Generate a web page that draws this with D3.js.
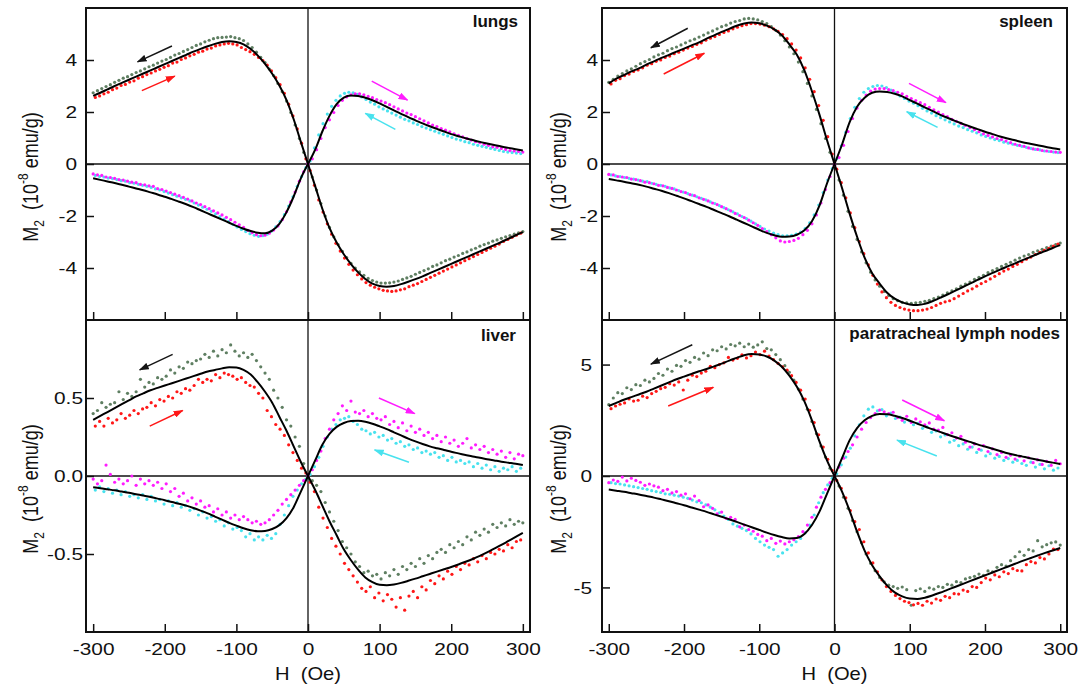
<!DOCTYPE html>
<html>
<head>
<meta charset="utf-8">
<script src="https://cdn.jsdelivr.net/npm/d3@7"></script>
<style>
  body { margin: 0; background: #fff; }
  text { font-family: "Liberation Sans", Arial, sans-serif; fill: #111; }
</style>
</head>
<body>
<svg id="chart" width="1084" height="690"></svg>
<script>
// |H| sampling of the measured points (Oe); negative branches use -H
const hA = [0,6,12,18,24,30,36,42,48,54,60,66,72,78,84,90,96,102,108,114,120,126,132,138,144,150,156,162,168,174,180,186,192,198,204,210,216,222,228,234,240,246,252,258,264,270,276,282,288,294,300];
const hB = [3,9,15,21,27,33,39,45,51,57,63,69,75,81,87,93,99,105,111,117,123,129,135,141,147,153,159,165,171,177,183,189,195,201,207,213,219,225,231,237,243,249,255,261,267,273,279,285,291,297];
const hFit = [0,10,20,30,40,50,60,70,80,90,100,110,120,130,140,150,160,170,180,190,200,210,220,230,240,250,260,270,280,290,300];

const xMajor = [-300,-200,-100,0,100,200,300];
const xMinor = [-250,-150,-50,50,150,250];

// ---- lungs ----
const lungsGrayUL = [0.05,0.45,0.98,1.50,1.98,2.42,2.78,3.10,3.40,3.65,3.90,4.10,4.30,4.48,4.62,4.75,4.82,4.86,4.90,4.88,4.87,4.86,4.82,4.76,4.70,4.62,4.56,4.48,4.40,4.33,4.25,4.19,4.10,4.02,3.96,3.88,3.80,3.74,3.66,3.58,3.52,3.44,3.36,3.30,3.22,3.14,3.05,2.98,2.90,2.82,2.74];
const lungsRedUL = [0.20,0.80,1.35,1.85,2.30,2.72,3.05,3.32,3.58,3.80,3.98,4.10,4.22,4.32,4.40,4.48,4.58,4.62,4.64,4.62,4.58,4.54,4.46,4.42,4.34,4.30,4.22,4.16,4.08,4.02,3.92,3.88,3.78,3.72,3.64,3.58,3.50,3.44,3.36,3.30,3.20,3.15,3.06,3.02,2.92,2.86,2.76,2.70,2.62,2.56];
const lungsGrayLR = [-0.05,-0.50,-1.00,-1.52,-2.00,-2.44,-2.80,-3.10,-3.36,-3.60,-3.82,-4.00,-4.15,-4.28,-4.40,-4.48,-4.54,-4.58,-4.58,-4.57,-4.54,-4.50,-4.44,-4.38,-4.32,-4.24,-4.17,-4.10,-4.03,-3.94,-3.88,-3.80,-3.72,-3.66,-3.58,-3.52,-3.44,-3.38,-3.30,-3.24,-3.16,-3.10,-3.04,-2.97,-2.92,-2.86,-2.80,-2.75,-2.70,-2.65,-2.60];
const lungsRedLR = [-0.25,-0.82,-1.38,-1.85,-2.30,-2.70,-3.05,-3.35,-3.62,-3.86,-4.08,-4.26,-4.42,-4.56,-4.66,-4.74,-4.80,-4.86,-4.88,-4.90,-4.88,-4.84,-4.80,-4.72,-4.66,-4.60,-4.52,-4.44,-4.36,-4.28,-4.20,-4.12,-4.04,-3.96,-3.88,-3.80,-3.72,-3.64,-3.56,-3.48,-3.40,-3.32,-3.24,-3.16,-3.08,-2.98,-2.90,-2.82,-2.74,-2.66];
const lungsMagUR = [0.02,0.20,0.55,0.98,1.40,1.70,1.98,2.25,2.45,2.58,2.66,2.70,2.70,2.66,2.60,2.55,2.48,2.42,2.36,2.28,2.20,2.12,2.04,1.96,1.90,1.82,1.74,1.66,1.58,1.50,1.44,1.36,1.30,1.24,1.16,1.10,1.04,0.98,0.92,0.86,0.82,0.76,0.72,0.66,0.64,0.60,0.56,0.52,0.50,0.48,0.46];
const lungsCyanUR = [0.12,0.62,1.12,1.55,1.92,2.22,2.45,2.62,2.72,2.76,2.74,2.68,2.58,2.48,2.38,2.30,2.20,2.12,2.04,1.96,1.88,1.80,1.72,1.66,1.58,1.52,1.44,1.38,1.32,1.26,1.20,1.14,1.08,1.02,0.96,0.92,0.86,0.82,0.76,0.72,0.68,0.64,0.60,0.56,0.52,0.48,0.46,0.44,0.42,0.40];
const lungsMagLL = [-0.05,-0.30,-0.66,-1.08,-1.46,-1.84,-2.14,-2.38,-2.54,-2.66,-2.74,-2.76,-2.72,-2.64,-2.55,-2.44,-2.34,-2.24,-2.14,-2.05,-1.96,-1.88,-1.80,-1.72,-1.64,-1.56,-1.50,-1.42,-1.35,-1.28,-1.22,-1.16,-1.10,-1.04,-0.98,-0.95,-0.86,-0.84,-0.80,-0.78,-0.72,-0.70,-0.66,-0.62,-0.60,-0.55,-0.52,-0.50,-0.44,-0.42,-0.38];
const lungsCyanLL = [-0.14,-0.48,-0.86,-1.26,-1.62,-1.95,-2.22,-2.42,-2.58,-2.70,-2.76,-2.78,-2.74,-2.68,-2.60,-2.52,-2.42,-2.32,-2.22,-2.12,-2.02,-1.92,-1.82,-1.74,-1.66,-1.58,-1.50,-1.42,-1.36,-1.30,-1.24,-1.18,-1.12,-1.06,-1.00,-0.96,-0.90,-0.86,-0.82,-0.78,-0.74,-0.72,-0.66,-0.64,-0.60,-0.56,-0.54,-0.50,-0.48,-0.44];
const lungsFitUL = [0,0.85,1.72,2.46,3.02,3.47,3.85,4.17,4.42,4.6,4.69,4.72,4.69,4.62,4.53,4.43,4.32,4.2,4.08,3.96,3.84,3.72,3.6,3.48,3.36,3.24,3.12,3.0,2.87,2.74,2.62];
const lungsFitLR = [0,-0.85,-1.72,-2.46,-3.02,-3.47,-3.85,-4.17,-4.42,-4.6,-4.69,-4.72,-4.69,-4.62,-4.53,-4.43,-4.32,-4.2,-4.08,-3.96,-3.84,-3.72,-3.6,-3.48,-3.36,-3.24,-3.12,-3.0,-2.87,-2.74,-2.62];
const lungsFitUR = [0,0.55,1.25,1.85,2.3,2.55,2.63,2.62,2.55,2.45,2.33,2.2,2.06,1.93,1.8,1.68,1.56,1.45,1.35,1.25,1.15,1.07,0.99,0.92,0.85,0.79,0.73,0.67,0.62,0.57,0.52];
const lungsFitLL = [0,-0.55,-1.25,-1.85,-2.3,-2.56,-2.66,-2.64,-2.58,-2.49,-2.38,-2.26,-2.14,-2.02,-1.9,-1.78,-1.66,-1.55,-1.45,-1.35,-1.26,-1.17,-1.09,-1.01,-0.94,-0.87,-0.8,-0.73,-0.67,-0.61,-0.55];
const lungsArrows = [[-190,4.54,-238,3.93,"black"],[-232,2.82,-186,3.38,"red"],[89,3.19,139,2.46,"magenta"],[122,1.33,80,1.95,"cyan"]];

// ---- spleen ----
const spleenGrayUL = [0.05,0.45,0.98,1.55,2.10,2.62,3.10,3.55,3.92,4.24,4.50,4.74,4.96,5.14,5.28,5.40,5.48,5.54,5.58,5.60,5.58,5.52,5.48,5.42,5.34,5.28,5.20,5.12,5.04,4.96,4.88,4.80,4.74,4.66,4.58,4.50,4.44,4.36,4.26,4.20,4.12,4.02,3.94,3.86,3.76,3.66,3.58,3.48,3.38,3.26,3.14];
const spleenRedUL = [0.38,1.05,1.68,2.25,2.78,3.26,3.70,4.08,4.38,4.62,4.82,4.98,5.10,5.20,5.28,5.34,5.38,5.40,5.40,5.36,5.32,5.26,5.20,5.12,5.06,4.98,4.90,4.84,4.76,4.66,4.60,4.52,4.46,4.38,4.30,4.24,4.15,4.10,4.00,3.95,3.86,3.80,3.70,3.62,3.56,3.46,3.40,3.28,3.22,3.08];
const spleenGrayLR = [-0.05,-0.62,-1.20,-1.82,-2.40,-2.90,-3.38,-3.80,-4.16,-4.46,-4.70,-4.90,-5.06,-5.18,-5.26,-5.32,-5.34,-5.36,-5.34,-5.32,-5.28,-5.24,-5.18,-5.12,-5.04,-4.96,-4.88,-4.80,-4.70,-4.62,-4.54,-4.44,-4.36,-4.28,-4.18,-4.10,-4.02,-3.94,-3.86,-3.78,-3.70,-3.62,-3.54,-3.48,-3.40,-3.34,-3.28,-3.22,-3.16,-3.10,-3.04];
const spleenRedLR = [-0.20,-0.72,-1.30,-1.88,-2.45,-2.98,-3.45,-3.88,-4.28,-4.62,-4.92,-5.14,-5.32,-5.44,-5.52,-5.58,-5.62,-5.64,-5.64,-5.62,-5.58,-5.52,-5.44,-5.36,-5.30,-5.26,-5.18,-5.08,-4.98,-4.88,-4.80,-4.70,-4.60,-4.52,-4.42,-4.32,-4.22,-4.12,-4.04,-3.94,-3.86,-3.76,-3.66,-3.58,-3.48,-3.40,-3.32,-3.24,-3.16,-3.08];
const spleenMagUR = [0.00,0.25,0.72,1.25,1.75,2.15,2.45,2.65,2.80,2.88,2.90,2.90,2.86,2.82,2.76,2.70,2.60,2.52,2.44,2.36,2.28,2.18,2.08,2.00,1.90,1.82,1.72,1.64,1.56,1.48,1.40,1.32,1.24,1.16,1.10,1.04,0.98,0.94,0.88,0.82,0.76,0.72,0.68,0.62,0.58,0.56,0.52,0.50,0.48,0.46,0.45];
const spleenCyanUR = [0.20,0.70,1.22,1.75,2.18,2.52,2.76,2.90,2.98,3.02,3.00,2.94,2.84,2.74,2.62,2.52,2.42,2.34,2.24,2.14,2.04,1.96,1.86,1.78,1.70,1.62,1.54,1.46,1.40,1.32,1.26,1.20,1.12,1.06,1.00,0.94,0.90,0.84,0.80,0.76,0.72,0.68,0.64,0.60,0.56,0.54,0.50,0.48,0.46,0.44];
const spleenMagLL = [-0.05,-0.48,-0.98,-1.50,-1.96,-2.30,-2.55,-2.72,-2.86,-2.94,-2.98,-3.00,-2.96,-2.84,-2.72,-2.60,-2.48,-2.36,-2.26,-2.16,-2.06,-1.98,-1.90,-1.80,-1.72,-1.64,-1.56,-1.50,-1.42,-1.36,-1.30,-1.22,-1.18,-1.10,-1.06,-1.00,-0.94,-0.90,-0.84,-0.82,-0.76,-0.72,-0.70,-0.64,-0.60,-0.58,-0.52,-0.50,-0.48,-0.42,-0.40];
const spleenCyanLL = [-0.18,-0.62,-1.10,-1.58,-1.96,-2.26,-2.48,-2.62,-2.70,-2.74,-2.76,-2.76,-2.72,-2.66,-2.58,-2.50,-2.40,-2.30,-2.20,-2.10,-2.02,-1.92,-1.84,-1.76,-1.68,-1.60,-1.52,-1.46,-1.38,-1.32,-1.26,-1.20,-1.14,-1.08,-1.02,-0.96,-0.92,-0.86,-0.82,-0.78,-0.74,-0.68,-0.66,-0.62,-0.58,-0.55,-0.52,-0.48,-0.46,-0.42];
const spleenFitUL = [0,0.92,1.9,2.8,3.6,4.2,4.6,4.95,5.18,5.32,5.41,5.44,5.4,5.32,5.2,5.08,4.95,4.82,4.68,4.56,4.44,4.32,4.2,4.08,3.95,3.82,3.68,3.56,3.42,3.28,3.1];
const spleenFitLR = [0,-0.92,-1.9,-2.8,-3.6,-4.2,-4.6,-4.95,-5.18,-5.32,-5.4,-5.42,-5.38,-5.28,-5.15,-5.02,-4.88,-4.74,-4.6,-4.46,-4.32,-4.19,-4.06,-3.94,-3.82,-3.7,-3.58,-3.46,-3.35,-3.23,-3.12];
const spleenFitUR = [0,0.75,1.6,2.2,2.55,2.74,2.79,2.77,2.7,2.6,2.46,2.32,2.18,2.04,1.9,1.78,1.66,1.55,1.44,1.34,1.24,1.15,1.06,0.98,0.91,0.84,0.78,0.72,0.66,0.61,0.56];
const spleenFitLL = [0,-0.75,-1.6,-2.2,-2.55,-2.72,-2.79,-2.8,-2.74,-2.65,-2.53,-2.4,-2.27,-2.14,-2.01,-1.89,-1.77,-1.65,-1.54,-1.43,-1.32,-1.22,-1.12,-1.03,-0.95,-0.87,-0.8,-0.74,-0.68,-0.63,-0.58];
const spleenArrows = [[-195,5.22,-244,4.47,"black"],[-227,3.46,-173,4.26,"red"],[99,3.1,148,2.36,"magenta"],[137,1.41,96,2.01,"cyan"]];

// ---- liver ----
const liverGrayUL = [0.02,0.08,0.19,0.25,0.32,0.36,0.44,0.50,0.55,0.62,0.66,0.70,0.74,0.78,0.76,0.79,0.77,0.80,0.84,0.79,0.81,0.77,0.80,0.76,0.78,0.75,0.74,0.72,0.73,0.69,0.70,0.66,0.68,0.64,0.62,0.63,0.59,0.60,0.57,0.62,0.54,0.51,0.53,0.49,0.54,0.47,0.46,0.44,0.47,0.42,0.40];
const liverRedUL = [0.02,0.05,0.10,0.15,0.20,0.26,0.30,0.33,0.38,0.42,0.50,0.53,0.57,0.58,0.60,0.63,0.62,0.64,0.65,0.66,0.63,0.65,0.61,0.62,0.60,0.62,0.58,0.55,0.56,0.53,0.54,0.50,0.51,0.48,0.49,0.45,0.47,0.44,0.43,0.40,0.42,0.39,0.37,0.40,0.36,0.34,0.37,0.32,0.35,0.32];
const liverGrayLR = [-0.01,-0.03,-0.06,-0.10,-0.17,-0.23,-0.29,-0.35,-0.42,-0.46,-0.50,-0.55,-0.58,-0.62,-0.61,-0.64,-0.63,-0.66,-0.62,-0.64,-0.60,-0.63,-0.58,-0.60,-0.56,-0.58,-0.53,-0.56,-0.51,-0.53,-0.49,-0.47,-0.49,-0.44,-0.46,-0.42,-0.44,-0.39,-0.41,-0.36,-0.38,-0.34,-0.36,-0.31,-0.33,-0.30,-0.32,-0.28,-0.31,-0.29,-0.30];
const liverRedLR = [-0.04,-0.10,-0.20,-0.27,-0.33,-0.40,-0.45,-0.50,-0.56,-0.60,-0.64,-0.68,-0.72,-0.74,-0.71,-0.78,-0.75,-0.80,-0.76,-0.79,-0.84,-0.78,-0.86,-0.77,-0.74,-0.78,-0.71,-0.73,-0.67,-0.69,-0.64,-0.66,-0.61,-0.63,-0.58,-0.60,-0.56,-0.57,-0.53,-0.55,-0.51,-0.53,-0.49,-0.50,-0.47,-0.48,-0.44,-0.46,-0.42,-0.41];
const liverMagUR = [0.01,0.04,0.10,0.16,0.24,0.30,0.36,0.40,0.45,0.42,0.48,0.41,0.40,0.42,0.38,0.40,0.37,0.36,0.38,0.33,0.35,0.31,0.34,0.29,0.32,0.28,0.30,0.26,0.28,0.24,0.26,0.22,0.25,0.21,0.23,0.19,0.21,0.24,0.18,0.20,0.17,0.19,0.15,0.17,0.14,0.16,0.12,0.15,0.11,0.14,0.13];
const liverCyanUR = [0.01,0.06,0.12,0.19,0.25,0.30,0.33,0.36,0.37,0.38,0.35,0.33,0.30,0.29,0.27,0.28,0.25,0.26,0.23,0.24,0.21,0.22,0.19,0.20,0.17,0.18,0.15,0.16,0.14,0.15,0.12,0.13,0.10,0.12,0.09,0.10,0.08,0.09,0.06,0.08,0.05,0.07,0.04,0.06,0.03,0.05,0.04,0.06,0.03,0.05];
const liverMagLL = [0.00,-0.03,-0.06,-0.09,-0.12,-0.15,-0.18,-0.22,-0.25,-0.28,-0.30,-0.31,-0.29,-0.30,-0.28,-0.26,-0.28,-0.25,-0.27,-0.23,-0.25,-0.21,-0.23,-0.19,-0.20,-0.16,-0.18,-0.14,-0.16,-0.11,-0.13,-0.08,-0.10,-0.05,-0.08,-0.04,-0.06,-0.03,-0.05,-0.02,-0.06,0.00,-0.03,-0.05,-0.02,-0.04,0.01,0.07,-0.03,-0.05,-0.02];
const liverCyanLL = [-0.02,-0.05,-0.09,-0.13,-0.19,-0.25,-0.31,-0.37,-0.40,-0.38,-0.41,-0.39,-0.41,-0.37,-0.39,-0.35,-0.33,-0.34,-0.30,-0.32,-0.28,-0.29,-0.26,-0.27,-0.23,-0.25,-0.21,-0.22,-0.19,-0.20,-0.17,-0.19,-0.16,-0.18,-0.15,-0.16,-0.13,-0.15,-0.12,-0.14,-0.12,-0.13,-0.10,-0.12,-0.09,-0.11,-0.08,-0.10,-0.07,-0.09];
const liverFitUL = [0,0.09,0.19,0.29,0.38,0.47,0.54,0.6,0.65,0.68,0.695,0.697,0.69,0.68,0.67,0.655,0.64,0.625,0.61,0.595,0.58,0.565,0.55,0.53,0.51,0.485,0.46,0.435,0.41,0.385,0.36];
const liverFitLR = [0,-0.09,-0.19,-0.29,-0.38,-0.47,-0.54,-0.6,-0.65,-0.68,-0.697,-0.7,-0.695,-0.685,-0.672,-0.658,-0.643,-0.628,-0.613,-0.598,-0.583,-0.567,-0.55,-0.532,-0.512,-0.49,-0.466,-0.442,-0.416,-0.39,-0.365];
const liverFitUR = [0,0.1,0.2,0.27,0.315,0.34,0.352,0.354,0.348,0.335,0.318,0.3,0.28,0.26,0.24,0.222,0.205,0.19,0.178,0.167,0.155,0.145,0.135,0.125,0.117,0.108,0.1,0.092,0.085,0.078,0.07];
const liverFitLL = [0,-0.1,-0.2,-0.27,-0.315,-0.34,-0.352,-0.354,-0.348,-0.335,-0.318,-0.3,-0.28,-0.26,-0.24,-0.222,-0.205,-0.19,-0.178,-0.167,-0.155,-0.145,-0.135,-0.125,-0.117,-0.108,-0.1,-0.092,-0.085,-0.078,-0.072];
const liverArrows = [[-189,0.78,-235,0.68,"black"],[-221,0.32,-175,0.42,"red"],[99,0.5,149,0.40,"magenta"],[141,0.088,93,0.167,"cyan"]];

// ---- paratracheal lymph nodes ----
const lymphGrayUL = [0.05,0.35,0.85,1.35,1.90,2.45,3.00,3.45,3.90,4.30,4.65,4.95,5.22,5.45,5.66,5.72,6.02,5.88,5.78,5.92,5.80,5.96,5.84,5.90,5.70,5.80,5.62,5.66,5.40,5.52,5.24,5.32,5.10,5.18,4.92,4.96,4.70,4.80,4.52,4.60,4.38,4.22,4.30,4.06,4.10,3.88,3.96,3.70,3.74,3.50,3.20];
const lymphRedUL = [0.25,0.75,1.30,1.85,2.40,2.95,3.45,3.85,4.20,4.50,4.75,4.90,5.05,5.22,5.38,5.60,5.45,5.56,5.40,5.30,5.44,5.28,5.20,5.32,5.08,5.00,4.86,4.92,4.70,4.62,4.46,4.52,4.30,3.86,4.22,4.08,4.14,3.98,3.92,3.80,3.70,3.52,3.58,3.40,3.36,3.46,3.28,3.22,3.14,3.02];
const lymphGrayLR = [-0.05,-0.45,-0.95,-1.45,-2.00,-2.50,-3.00,-3.50,-3.92,-4.25,-4.55,-4.75,-4.90,-4.96,-5.04,-4.98,-5.10,-5.80,-5.14,-5.06,-5.18,-5.02,-5.08,-4.96,-5.00,-4.86,-4.90,-4.74,-4.78,-4.62,-4.56,-4.50,-4.40,-4.46,-4.26,-4.30,-4.10,-3.98,-4.04,-3.80,-3.62,-3.40,-3.56,-3.30,-3.36,-2.90,-3.18,-3.08,-3.00,-2.96,-3.10];
const lymphRedLR = [-0.20,-0.55,-0.98,-1.55,-2.05,-2.40,-2.95,-3.45,-3.90,-4.30,-4.66,-4.96,-5.18,-5.36,-5.50,-5.62,-5.68,-5.78,-5.72,-5.80,-5.62,-5.70,-5.52,-5.58,-5.40,-5.46,-5.28,-5.30,-5.12,-5.18,-4.96,-5.00,-4.78,-4.58,-4.66,-4.44,-4.52,-4.30,-4.38,-4.16,-4.24,-4.26,-3.98,-3.84,-3.90,-3.66,-3.72,-3.50,-3.28,-3.30];
const lymphMagUR = [0.05,0.40,0.80,1.10,1.40,1.75,2.10,2.40,2.62,2.80,2.96,2.88,2.80,2.86,2.62,2.50,2.68,2.40,2.56,2.43,2.30,2.38,2.10,2.06,2.18,1.86,1.94,1.70,1.78,1.52,1.30,1.44,1.20,1.36,1.10,1.22,0.96,1.06,0.84,0.94,0.76,0.88,0.68,0.82,0.60,0.72,0.52,0.66,0.48,0.70,0.55];
const lymphCyanUR = [0.10,0.50,0.85,1.25,1.80,2.30,2.70,3.00,3.10,2.92,2.98,2.70,2.82,2.58,2.64,2.42,2.50,2.30,2.36,2.14,2.20,1.96,2.02,1.76,1.84,1.52,1.60,1.36,1.44,1.20,1.30,1.06,1.16,0.90,1.00,0.80,0.88,0.70,0.78,0.62,0.70,0.56,0.48,0.62,0.40,0.52,0.32,0.46,0.26,0.36];
const lymphMagLL = [-0.05,-0.30,-0.60,-0.95,-1.40,-1.85,-2.20,-2.50,-2.72,-2.86,-2.95,-3.05,-2.92,-3.02,-2.80,-2.90,-2.70,-2.62,-2.48,-2.40,-2.20,-2.28,-1.95,-1.85,-1.90,-1.62,-1.70,-1.45,-1.30,-1.38,-1.10,-0.90,-1.02,-0.80,-0.86,-0.70,-0.76,-0.60,-0.66,-0.50,-0.44,-0.36,-0.42,-0.28,-0.20,-0.10,-0.22,-0.05,-0.24,-0.18,-0.30];
const lymphCyanLL = [-0.10,-0.40,-0.75,-1.20,-1.75,-2.20,-2.55,-2.80,-2.95,-3.10,-3.30,-3.45,-3.60,-3.30,-3.20,-3.10,-2.95,-2.80,-2.60,-2.45,-2.35,-2.25,-2.15,-1.95,-1.80,-1.65,-1.52,-1.40,-1.30,-1.20,-1.16,-1.08,-1.00,-0.95,-0.90,-0.86,-0.82,-0.80,-0.74,-0.70,-0.66,-0.60,-0.56,-0.52,-0.48,-0.44,-0.40,-0.36,-0.34,-0.30];
const lymphFitUL = [0,0.7,1.55,2.5,3.35,4.0,4.5,4.9,5.18,5.36,5.45,5.47,5.42,5.3,5.18,5.04,4.92,4.8,4.7,4.58,4.46,4.34,4.2,4.06,3.92,3.78,3.66,3.54,3.42,3.28,3.14];
const lymphFitLR = [0,-0.7,-1.55,-2.5,-3.35,-4.0,-4.5,-4.92,-5.22,-5.4,-5.5,-5.52,-5.46,-5.36,-5.24,-5.11,-4.98,-4.85,-4.72,-4.59,-4.46,-4.33,-4.2,-4.07,-3.94,-3.81,-3.69,-3.57,-3.45,-3.34,-3.23];
const lymphFitUR = [0,0.8,1.6,2.15,2.5,2.7,2.78,2.77,2.7,2.6,2.48,2.35,2.22,2.1,1.98,1.86,1.75,1.64,1.53,1.42,1.32,1.22,1.12,1.02,0.94,0.87,0.8,0.73,0.66,0.6,0.54];
const lymphFitLL = [0,-0.8,-1.6,-2.2,-2.6,-2.78,-2.8,-2.74,-2.65,-2.54,-2.42,-2.3,-2.18,-2.06,-1.94,-1.83,-1.72,-1.61,-1.51,-1.41,-1.31,-1.22,-1.13,-1.05,-0.97,-0.9,-0.83,-0.77,-0.71,-0.66,-0.61];
const lymphArrows = [[-189,5.89,-244,5.02,"black"],[-221,3.14,-161,3.98,"red"],[90,3.41,146,2.48,"magenta"],[136,0.9,83,1.61,"cyan"]];

const colors = {gray: "#5f7f62", red: "#ff1717", magenta: "#ff1cff", cyan: "#48e2ee", black: "#151515"};
const fontFam = '"Liberation Sans", Arial, sans-serif';
const stretch = 1.28;

const panels = [
  {label: "lungs", yDomain: [-6, 6], yMajor: [-4,-2,0,2,4], yMinor: [-5,-3,-1,1,3,5], fmt: d => String(d),
   box: {x0: 86, x1: 530, y0: 8, y1: 320, h: 310, gap: 9, lx: 518, ly: 27, showX: false},
   dots: [[lungsGrayUL,hA,-1,"gray"],[lungsRedUL,hB,-1,"red"],[lungsGrayLR,hA,1,"gray"],[lungsRedLR,hB,1,"red"],
          [lungsCyanUR,hB,1,"cyan"],[lungsMagUR,hA,1,"magenta"],[lungsCyanLL,hB,-1,"cyan"],[lungsMagLL,hA,-1,"magenta"]],
   fits: [[lungsFitUL,-1],[lungsFitLR,1],[lungsFitUR,1],[lungsFitLL,-1]], arrows: lungsArrows},
  {label: "spleen", yDomain: [-6, 6], yMajor: [-4,-2,0,2,4], yMinor: [-5,-3,-1,1,3,5], fmt: d => String(d),
   box: {x0: 602, x1: 1067, y0: 8, y1: 320, h: 309, gap: 4, lx: 1053, ly: 27, showX: false},
   dots: [[spleenGrayUL,hA,-1,"gray"],[spleenRedUL,hB,-1,"red"],[spleenGrayLR,hA,1,"gray"],[spleenRedLR,hB,1,"red"],
          [spleenCyanUR,hB,1,"cyan"],[spleenMagUR,hA,1,"magenta"],[spleenCyanLL,hB,-1,"cyan"],[spleenMagLL,hA,-1,"magenta"]],
   fits: [[spleenFitUL,-1],[spleenFitLR,1],[spleenFitUR,1],[spleenFitLL,-1]], arrows: spleenArrows},
  {label: "liver", yDomain: [-1, 1], yMajor: [-0.5,0,0.5], yMinor: [-0.9,-0.8,-0.7,-0.6,-0.4,-0.3,-0.2,-0.1,0.1,0.2,0.3,0.4,0.6,0.7,0.8,0.9], fmt: d => d.toFixed(1),
   box: {x0: 86, x1: 530, y0: 320, y1: 632, h: 310, gap: 3, lx: 516, ly: 341, showX: true},
   dots: [[liverGrayUL,hA,-1,"gray"],[liverRedUL,hB,-1,"red"],[liverGrayLR,hA,1,"gray"],[liverRedLR,hB,1,"red"],
          [liverCyanUR,hB,1,"cyan"],[liverMagUR,hA,1,"magenta"],[liverCyanLL,hB,-1,"cyan"],[liverMagLL,hA,-1,"magenta"]],
   fits: [[liverFitUL,-1],[liverFitLR,1],[liverFitUR,1],[liverFitLL,-1]], arrows: liverArrows},
  {label: "paratracheal lymph nodes", yDomain: [-7, 7], yMajor: [-5,0,5], yMinor: [-6,-4,-3,-2,-1,1,2,3,4,6], fmt: d => String(d),
   box: {x0: 602, x1: 1067, y0: 320, y1: 632, h: 309, gap: 10, lx: 1060, ly: 339, showX: true},
   dots: [[lymphGrayUL,hA,-1,"gray"],[lymphRedUL,hB,-1,"red"],[lymphGrayLR,hA,1,"gray"],[lymphRedLR,hB,1,"red"],
          [lymphCyanUR,hB,1,"cyan"],[lymphMagUR,hA,1,"magenta"],[lymphCyanLL,hB,-1,"cyan"],[lymphMagLL,hA,-1,"magenta"]],
   fits: [[lymphFitUL,-1],[lymphFitLR,1],[lymphFitUR,1],[lymphFitLL,-1]], arrows: lymphArrows}
];

const svg = d3.select("#chart");
const defs = svg.append("defs");
for (const k of ["black","red","magenta","cyan"]) {
  defs.append("marker").attr("id", "ah-" + k)
    .attr("viewBox", "0 0 10 7").attr("refX", 9).attr("refY", 3.5)
    .attr("markerWidth", 10).attr("markerHeight", 7)
    .attr("markerUnits", "userSpaceOnUse").attr("orient", "auto")
    .append("path").attr("d", "M0,0L10,3.5L0,7z").attr("fill", colors[k]);
}

function drawPanel(p) {
  const b = p.box;
  const x = d3.scaleLinear().domain([-b.h, b.h]).range([b.x0, b.x1]);
  const y = d3.scaleLinear().domain(p.yDomain).range([b.y1, b.y0]);
  const g = svg.append("g");

  // zero lines
  g.append("line").attr("x1", b.x0).attr("x2", b.x1).attr("y1", y(0)).attr("y2", y(0))
    .attr("stroke", "#111").attr("stroke-width", 1.3);
  g.append("line").attr("x1", x(0)).attr("x2", x(0)).attr("y1", b.y0).attr("y2", b.y1)
    .attr("stroke", "#111").attr("stroke-width", 1.3);

  // measured points
  for (const [vals, grid, sign, col] of p.dots) {
    g.append("g").selectAll("circle").data(vals).join("circle")
      .attr("cx", (v, i) => x(sign * grid[i]))
      .attr("cy", v => y(v))
      .attr("r", 1.6)
      .attr("fill", colors[col]);
  }

  // fitted curves
  const line = d3.line().x(d => x(d[0])).y(d => y(d[1])).curve(d3.curveMonotoneX);
  for (const [vals, sign] of p.fits) {
    const pts = vals.map((v, i) => [sign * hFit[i], v]).sort((a, c) => a[0] - c[0]);
    g.append("path").attr("d", line(pts)).attr("fill", "none")
      .attr("stroke", "#000").attr("stroke-width", 2);
  }

  // sweep direction arrows
  for (const [h1, m1, h2, m2, col] of p.arrows) {
    g.append("line").attr("x1", x(h1)).attr("y1", y(m1)).attr("x2", x(h2)).attr("y2", y(m2))
      .attr("stroke", colors[col]).attr("stroke-width", 1.5)
      .attr("marker-end", `url(#ah-${col})`);
  }

  // x axis (ticks inward)
  const xg = g.append("g").attr("transform", `translate(0,${b.y1})`);
  xg.call(d3.axisBottom(x).tickValues(xMinor).tickSize(-4).tickFormat(""));
  xg.call(d3.axisBottom(x).tickValues(xMajor).tickSize(-8).tickPadding(11)
      .tickFormat(b.showX ? d => String(d) : ""));
  xg.select(".domain").remove();
  xg.selectAll("line").attr("stroke", "#111").attr("stroke-width", 1.5);
  xg.attr("font-family", fontFam).attr("font-size", 16.3);
  xg.selectAll("text").attr("fill", "#111").attr("transform", `scale(${stretch},1)`);

  // y axis (ticks inward)
  const yg = g.append("g").attr("transform", `translate(${b.x0},0)`);
  yg.call(d3.axisLeft(y).tickValues(p.yMinor).tickSize(-4).tickFormat(""));
  yg.call(d3.axisLeft(y).tickValues(p.yMajor).tickSize(-8).tickFormat(p.fmt));
  yg.select(".domain").remove();
  yg.selectAll("line").attr("stroke", "#111").attr("stroke-width", 1.5);
  yg.attr("font-family", fontFam).attr("font-size", 16.3);
  yg.selectAll("text").attr("fill", "#111").attr("x", -b.gap / stretch).attr("dy", "0.36em")
    .attr("transform", `scale(${stretch},1)`);

  // frame
  g.append("rect").attr("x", b.x0).attr("y", b.y0).attr("width", b.x1 - b.x0).attr("height", b.y1 - b.y0)
    .attr("fill", "none").attr("stroke", "#111").attr("stroke-width", 2);

  // panel label
  g.append("text").attr("x", b.lx).attr("y", b.ly).attr("text-anchor", "end")
    .attr("font-size", 17).attr("font-weight", "bold").attr("fill", "#222").text(p.label);

  // axis titles
  const yl = svg.append("text")
    .attr("transform", `translate(${b.x0 < 300 ? 30 : 558},${(b.y0 + b.y1) / 2 + 13}) scale(1.2,1) rotate(-90)`)
    .attr("text-anchor", "middle").attr("font-size", 18).attr("dy", "0.35em")
    .style("white-space", "pre");
  yl.append("tspan").text("M");
  yl.append("tspan").attr("font-size", 12).attr("dy", 5).text("2");
  yl.append("tspan").attr("dy", -5).text("  (10");
  yl.append("tspan").attr("font-size", 12).attr("dy", -8).text("-8");
  yl.append("tspan").attr("dy", 8).text(" emu/g)");

  if (b.showX) {
    svg.append("text").attr("transform", `translate(${x(0)},680) scale(1.12,1)`)
      .attr("text-anchor", "middle").attr("font-size", 18).style("white-space", "pre")
      .text("H  (Oe)");
  }
}

panels.forEach(drawPanel);
</script>
</body>
</html>
